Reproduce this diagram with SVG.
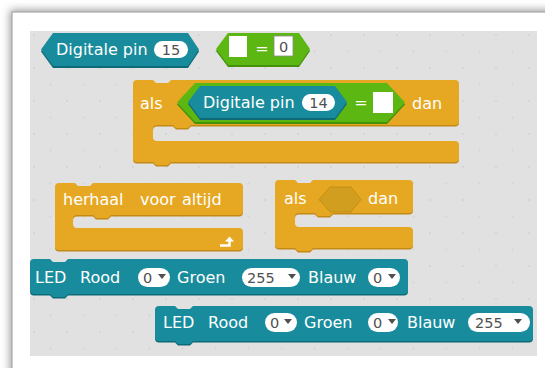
<svg xmlns="http://www.w3.org/2000/svg" xmlns:xlink="http://www.w3.org/1999/xlink" width="545" height="368" viewBox="0 0 545 368">
<style>
.t{font-family:"DejaVu Sans","Verdana",sans-serif;font-size:16px;fill:#ffffff}
.v{font-family:"DejaVu Sans","Verdana",sans-serif;font-size:14.5px;fill:#505050}
.orange{fill:#e6a822}
.orangeD{fill:#c38a17}
.teal{fill:#188c9c}
.tealD{fill:#0e6a77}
.green{fill:#5cb712}
.greenD{fill:#44910b}
.pill{fill:#ffffff}
.tri{fill:#505050}
</style>
<defs>
<filter id="sh" x="-10%" y="-10%" width="120%" height="120%">
<feGaussianBlur stdDeviation="4"/>
</filter>
<pattern id="dots" x="30" y="31" width="33" height="33" patternUnits="userSpaceOnUse">
<circle cx="4" cy="4" r="1" fill="#d2d4d2"/>
<circle cx="20.5" cy="20.5" r="1" fill="#d2d4d2"/>
</pattern>
<path id="p3" d="M133,84 Q133,80 137,80 H153 L156,83 H168 L171,80 H455 Q459,80 459,84 V121 Q459,125 455,125 H191 L188,128 H176 L173,125 H157 Q153,125 153,129 V137 Q153,141 157,141 H455 Q459,141 459,145 V158 Q459,162 455,162 H171 L168,165 H156 L153,162 H137 Q133,162 133,158 Z"/>
<path id="p4" d="M55,187 Q55,183 59,183 H75 L78,186 H90 L93,183 H239 Q243,183 243,187 V211 Q243,215 239,215 H111 L108,218 H96 L93,215 H77 Q73,215 73,219 V224 Q73,228 77,228 H239 Q243,228 243,232 V246 Q243,250 239,250 H59 Q55,250 55,246 Z"/>
<path id="p5" d="M275,184 Q275,180 279,180 H295 L298,183 H310 L313,180 H409 Q413,180 413,184 V209 Q413,213 409,213 H333 L330,216 H318 L315,213 H299 Q295,213 295,217 V223 Q295,227 299,227 H409 Q413,227 413,231 V244 Q413,248 409,248 H313 L310,251 H298 L295,248 H279 Q275,248 275,244 Z"/>
<path id="p6" d="M30,263 Q30,259 34,259 H50 L53,262 H65 L68,259 H404 Q408,259 408,263 V290 Q408,294 404,294 H68 L65,297 H53 L50,294 H34 Q30,294 30,290 Z"/>
<path id="p7" d="M155,310 Q155,306 159,306 H175 L178,309 H190 L193,306 H529 Q533,306 533,310 V337 Q533,341 529,341 H193 L190,344 H178 L175,341 H159 Q155,341 155,337 Z"/>
</defs>
<rect width="545" height="368" fill="#ffffff"/>
<rect x="10" y="10" width="600" height="420" fill="#9a9a9a" filter="url(#sh)"/>
<rect x="12" y="12" width="600" height="420" fill="#ffffff" stroke="#a8a8a8" stroke-width="1.2"/>
<rect x="30" y="31" width="507" height="325" fill="#e0e1e0"/>
<rect x="30" y="31" width="507" height="325" fill="url(#dots)"/>
<g id="connectors"></g>
<g id="digitale-pin-15">
<polygon class="tealD" points="41,51.5 53,35 188,35 199,51.5 188,68 53,68"/>
<polygon class="teal" points="41,49.5 53,33 188,33 199,49.5 188,66 53,66"/>
<text class="t" x="56" y="55">Digitale pin</text>
<rect class="pill" x="154" y="41" width="34" height="17" rx="8.5"/>
<text class="v" x="171" y="55" text-anchor="middle">15</text>
</g>
<g id="gelijk-aan">
<polygon class="greenD" points="216,51 228,35 299,35 310,51 299,67 228,67"/>
<polygon class="green" points="216,49 228,33 299,33 310,49 299,65 228,65"/>
<rect x="229" y="36" width="18" height="21" fill="#ffffff"/>
<text class="t" x="262" y="54" text-anchor="middle">=</text>
<rect x="274" y="36" width="19" height="20" fill="#ffffff" stroke="#8a8a8a" stroke-width="0.8"/>
<text class="v" x="283.5" y="52" text-anchor="middle">0</text>
</g>
<g id="als-dan-1">
<use xlink:href="#p3" class="orangeD" transform="translate(0,1.5)"/>
<use xlink:href="#p3" class="orange"/>
<text class="t" x="140" y="109">als</text>
<polygon class="greenD" points="177,104.5 195,85 387,85 405,104.5 387,124 195,124"/>
<polygon class="green" points="177,102.5 195,83 387,83 405,102.5 387,122 195,122"/>
<polygon class="tealD" points="188,104 200,88 335,88 347,104 335,120 200,120"/>
<polygon class="teal" points="188,102 200,86 335,86 347,102 335,118 200,118"/>
<text class="t" x="203" y="108">Digitale pin</text>
<rect class="pill" x="302" y="94" width="33" height="17" rx="8.5"/>
<text class="v" x="318.5" y="108" text-anchor="middle">14</text>
<text class="t" x="361" y="108" text-anchor="middle">=</text>
<rect x="373" y="92" width="20" height="21" fill="#ffffff"/>
<text class="t" x="412" y="109">dan</text>
</g>
<g id="herhaal-voor-altijd">
<use xlink:href="#p4" class="orangeD" transform="translate(0,1.5)"/>
<use xlink:href="#p4" class="orange"/>
<text class="t" x="63" y="205">herhaal</text>
<text class="t" x="140" y="205">voor</text>
<text class="t" x="182" y="205">altijd</text>
<path d="M220,245.5 H229.5 V240.5" fill="none" stroke="#ffffff" stroke-width="2.5"/>
<polygon points="225,241.5 229.5,236.5 234,241.5" fill="#ffffff"/>
</g>
<g id="als-dan-2">
<use xlink:href="#p5" class="orangeD" transform="translate(0,1.5)"/>
<use xlink:href="#p5" class="orange"/>
<text class="t" x="284" y="204">als</text>
<polygon points="319,199.5 330,187 351,187 361,199.5 351,212 330,212" fill="#d29e1f" stroke="#bb8a12" stroke-width="0.8"/>
<text class="t" x="368" y="204">dan</text>
</g>
<g id="led-1">
<use xlink:href="#p6" class="tealD" transform="translate(0,1.5)"/>
<use xlink:href="#p6" class="teal"/>
<text class="t" x="35" y="283">LED</text>
<text class="t" x="80" y="283">Rood</text>
<rect class="pill" x="138" y="268" width="32" height="19" rx="9.5"/>
<text class="v" x="143" y="283">0</text>
<polygon class="tri" points="158,274 166,274 162,279"/>
<text class="t" x="177" y="283">Groen</text>
<rect class="pill" x="242" y="268" width="58" height="19" rx="9.5"/>
<text class="v" x="247" y="283">255</text>
<polygon class="tri" points="288,274 296,274 292,279"/>
<text class="t" x="308" y="283">Blauw</text>
<rect class="pill" x="368" y="268" width="32" height="19" rx="9.5"/>
<text class="v" x="373" y="283">0</text>
<polygon class="tri" points="388,274 396,274 392,279"/>
</g>
<g id="led-2">
<use xlink:href="#p7" class="tealD" transform="translate(0,1.5)"/>
<use xlink:href="#p7" class="teal"/>
<text class="t" x="163" y="328">LED</text>
<text class="t" x="208" y="328">Rood</text>
<rect class="pill" x="265" y="313" width="32" height="19" rx="9.5"/>
<text class="v" x="270" y="328">0</text>
<polygon class="tri" points="284,319 292,319 288,324"/>
<text class="t" x="304" y="328">Groen</text>
<rect class="pill" x="368" y="313" width="30" height="19" rx="9.5"/>
<text class="v" x="373" y="328">0</text>
<polygon class="tri" points="388,319 396,319 392,324"/>
<text class="t" x="407" y="328">Blauw</text>
<rect class="pill" x="468" y="313" width="62" height="19" rx="9.5"/>
<text class="v" x="475" y="328">255</text>
<polygon class="tri" points="514,319 522,319 518,324"/>
</g>
</svg>
